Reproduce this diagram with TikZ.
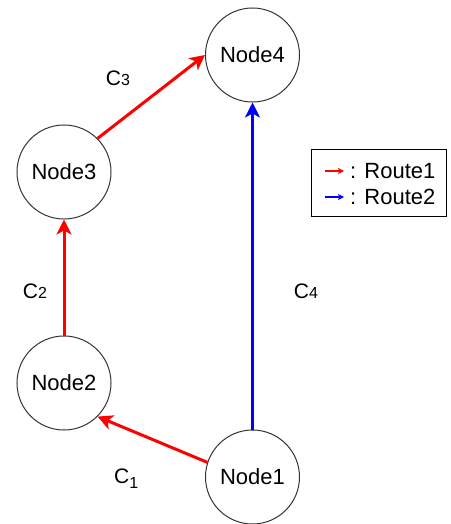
\documentclass[tikz,border=0pt]{standalone}
\usepackage{fontspec}
\setmainfont{Liberation Sans}
\usetikzlibrary{arrows.meta}
\definecolor{rred}{HTML}{FF0000}
\definecolor{rblue}{HTML}{0000FF}
\begin{document}
\begin{tikzpicture}[x=1pt,y=-1pt,
  nodecirc/.style={circle,draw=black!80,line width=1pt,minimum size=94pt,inner sep=0pt,
    font=\fontsize{22}{26}\selectfont},
  route/.style={line width=3pt,-{Stealth[length=15pt,width=15pt,inset=4pt]}},
  legarrow/.style={line width=1.6pt,-{Stealth[length=6pt,width=6pt,inset=1.5pt]}},
  lbl/.style={font=\fontsize{21}{24}\selectfont,inner sep=0pt},
  legtxt/.style={font=\fontsize{22}{26}\selectfont,inner sep=0pt,anchor=west}]
\useasboundingbox (0,0) rectangle (450,524);
\node[nodecirc] (n4) at (252.5,55) {Node4};
\node[nodecirc] (n3) at (64,172) {Node3};
\node[nodecirc] (n2) at (64,383) {Node2};
\node[nodecirc] (n1) at (252.5,477) {Node1};
\draw[route,rred] (n3.45) -- (n4.west);
\draw[route,rred] (n2.north) -- (n3.south);
\draw[route,rred] (n1.162) -- (n2.-45);
\draw[route,rblue] (n1.north) -- (n4.south);
\node[lbl] (c3) at (118,78) {C{\fontsize{16}{18}\selectfont 3}};
\node[lbl] (c2) at (35,291) {C{\fontsize{16}{18}\selectfont 2}};
\node[lbl] (c4) at (306,291) {C{\fontsize{16}{18}\selectfont 4}};
\node[lbl,anchor=base west] (c1) at (114,483) {C\raisebox{-5pt}{\fontsize{16}{18}\selectfont 1}};
\node[draw=black,line width=1pt,minimum width=135pt,minimum height=67pt,inner sep=0pt] (leg) at (378.5,182.5) {};
\coordinate (l1a) at (325,171); \coordinate (l1b) at (344,171);
\coordinate (l2a) at (325,197); \coordinate (l2b) at (344,197);
\draw[legarrow,rred] (l1a) -- (l1b);
\draw[legarrow,rblue] (l2a) -- (l2b);
\node[legtxt] (t1) at (350,171) {: Route1};
\node[legtxt] (t2) at (350,197) {: Route2};
\end{tikzpicture}
\end{document}
